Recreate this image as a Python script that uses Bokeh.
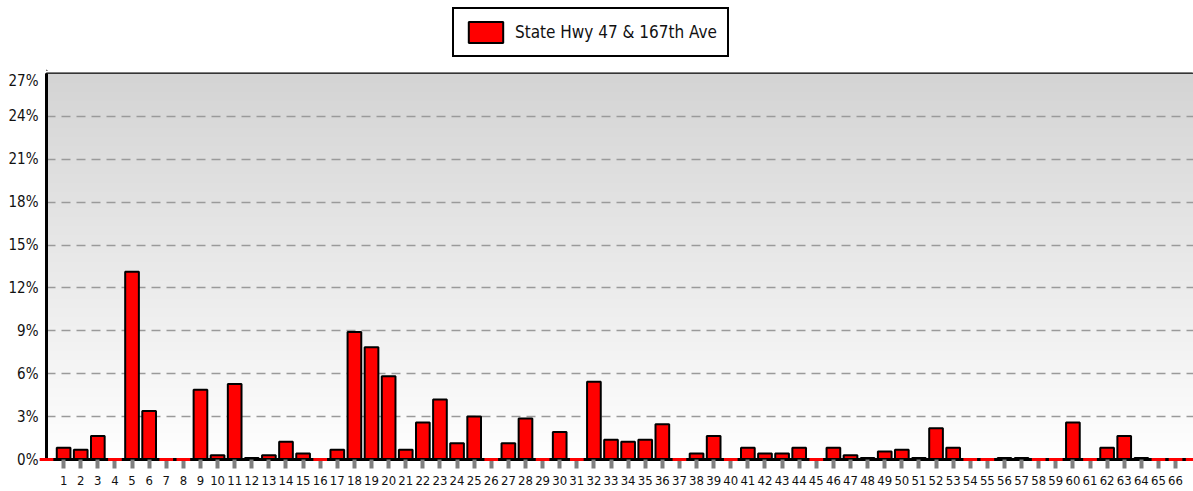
import numpy as np
from bokeh.plotting import figure
from bokeh.layouts import column
from bokeh.models import Range1d, FixedTicker, PrintfTickFormatter, Legend, LegendItem, ColumnDataSource
from bokeh.embed import file_html
from bokeh.resources import INLINE

series_name = "State Hwy 47 & 167th Ave"
# slot 0 and slot 67 are unlabeled empty edge slots
slots = list(range(0, 68))
tick_positions = list(range(1, 67))
tick_labels = [str(i) for i in range(1, 67)]
values = [0.0,
          0.82, 0.68, 1.64, 0.0, 13.14, 3.4, 0.0, 0.0, 4.88, 0.3,     # 1-10
          5.28, 0.1, 0.3, 1.24, 0.42, 0.0, 0.68, 8.92, 7.86, 5.82,    # 11-20
          0.68, 2.58, 4.2, 1.13, 3.0, 0.0, 1.13, 2.86, 0.0, 1.92,     # 21-30
          0.0, 5.44, 1.38, 1.24, 1.38, 2.46, 0.0, 0.42, 1.64, 0.0,    # 31-40
          0.82, 0.42, 0.42, 0.82, 0.0, 0.82, 0.3, 0.1, 0.56, 0.68,    # 41-50
          0.1, 2.18, 0.82, 0.0, 0.0, 0.1, 0.1, 0.0, 0.0, 2.58,        # 51-60
          0.0, 0.82, 1.64, 0.1, 0.0, 0.0,                             # 61-66
          0.0]
y_ticks = [0, 3, 6, 9, 12, 15, 18, 21, 24, 27]

FONT = "DejaVu Sans Condensed"
BAR_STYLE = dict(fill_color="#ff0000", line_color="black", line_width=2)

# ---------------- legend strip ----------------
lf = figure(width=1193, height=71, output_backend="svg", toolbar_location=None,
            x_range=Range1d(0, 1193), y_range=Range1d(0, 71),
            x_axis_type=None, y_axis_type=None,
            min_border=0, min_border_left=0, min_border_right=0,
            min_border_top=0, min_border_bottom=0)
lf.grid.visible = False
lf.outline_line_color = None
lf.background_fill_color = "white"
lf.border_fill_color = "white"
# off-screen proxy renderer so the legend swatch uses the bar style
proxy = lf.vbar(x=[-1000], top=[1], width=1, **BAR_STYLE)
legend = Legend(items=[LegendItem(label=series_name, renderers=[proxy])],
                orientation="horizontal", location=(406, 14),
                glyph_width=43, glyph_height=26, label_height=26,
                label_standoff=8, padding=10, margin=0, spacing=0,
                border_line_color="black", border_line_width=2, border_line_alpha=1.0,
                label_text_font=FONT, label_text_font_size="17px",
                label_text_color="#111111", background_fill_color="white",
                background_fill_alpha=1.0)
lf.add_layout(legend)

# ---------------- main chart ----------------
p = figure(width=1193, height=420, output_backend="svg", toolbar_location=None,
           x_range=Range1d(0, 67.05), y_range=Range1d(0, 27),
           min_border_left=46, min_border_right=0, min_border_top=2, min_border_bottom=32)
p.background_fill_color = "white"
p.border_fill_color = "white"
p.outline_line_color = "black"
p.outline_line_width = 2

# background gradient (styling only)
n = 256
t = np.linspace(0, 1, n)
g = (255 - t * (255 - 212)).astype(np.uint32)
img = np.empty((n, 1), dtype=np.uint32)
img[:, 0] = (255 << 24) | (g << 16) | (g << 8) | g
p.image_rgba(image=[img], x=0, y=0, dw=67.05, dh=27, level="image")

nonzero = [(s, v) for s, v in zip(slots, values) if v > 0]
zero = [s for s, v in zip(slots, values) if v == 0]
src = ColumnDataSource(dict(x=[s for s, _ in nonzero], top=[v for _, v in nonzero]))
bars = p.vbar(x="x", top="top", bottom=0, width=0.8, source=src, **BAR_STYLE)
zsrc = ColumnDataSource(dict(x=zero, y=[0.0] * len(zero)))
p.rect(x="x", y="y", width=0.8, height=3, height_units="screen", source=zsrc,
       fill_color="#ff0000", line_color=None, level="overlay")

# grid
p.xgrid.visible = False
p.ygrid.ticker = FixedTicker(ticks=y_ticks[1:-1])
p.ygrid.grid_line_color = "#9a9a9a"
p.ygrid.grid_line_width = 1.5
p.ygrid.grid_line_dash = "9 6"

# y axis
p.yaxis.ticker = FixedTicker(ticks=y_ticks)
p.yaxis.formatter = PrintfTickFormatter(format="%d%%")
p.yaxis.axis_line_color = "black"
p.yaxis.axis_line_width = 3
p.yaxis.major_tick_out = 0
p.yaxis.major_tick_in = 0
p.yaxis.minor_tick_line_color = None
p.yaxis.major_label_standoff = 8
p.yaxis.major_label_text_font = FONT
p.yaxis.major_label_text_font_size = "15px"
p.yaxis.major_label_text_color = "#111111"

# x axis
p.xaxis.ticker = FixedTicker(ticks=tick_positions)
p.xaxis.major_label_overrides = {pos: lab for pos, lab in zip(tick_positions, tick_labels)}
p.xaxis.axis_line_color = "black"
p.xaxis.axis_line_width = 3
p.xaxis.major_tick_out = 9
p.xaxis.major_tick_in = 0
p.xaxis.major_tick_line_color = "#808080"
p.xaxis.major_tick_line_width = 4
p.xaxis.minor_tick_line_color = None
p.xaxis.major_label_standoff = 7
p.xaxis.major_label_text_font = FONT
p.xaxis.major_label_text_font_size = "13px"
p.xaxis.major_label_text_color = "#111111"

layout = column(lf, p, spacing=0)
open("out.html", "w").write(file_html(layout, INLINE))
